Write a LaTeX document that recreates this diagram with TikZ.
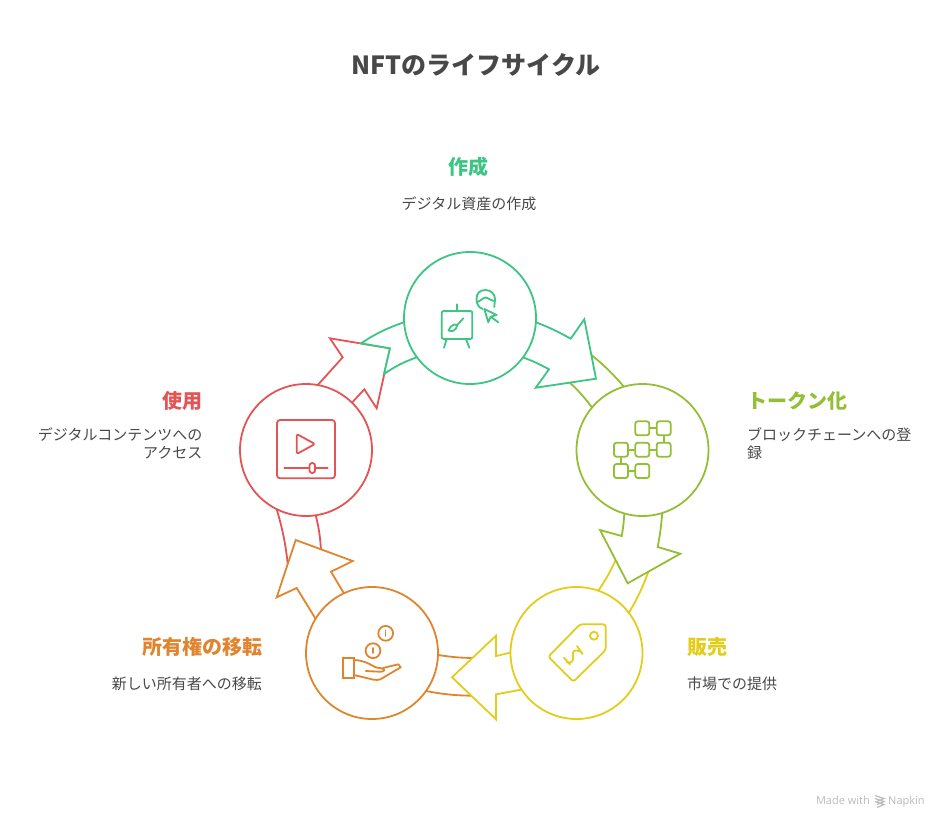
\documentclass[tikz,border=0pt]{standalone}
\usepackage{fontspec}
\setmainfont{Noto Sans CJK JP}
\newfontfamily\footfont{Open Sans}
\usetikzlibrary{positioning}

\definecolor{cgreen}{HTML}{3CC583}
\definecolor{colive}{HTML}{93BF35}
\definecolor{cyellow}{HTML}{E3CD1B}
\definecolor{corange}{HTML}{E0852F}
\definecolor{cred}{HTML}{E35555}
\definecolor{ctext}{HTML}{484848}

\begin{document}
\begin{tikzpicture}[
x=1pt,y=-1pt,
stage/.style={
circle,
minimum size=132pt,
inner sep=0pt,
line width=1.8pt,
fill=white
},
band/.style={
line width=1.8pt,
fill=white,
line join=miter
},
icon/.style={
line width=1.8pt,
line cap=round,
line join=round
},
title/.style={
font=\fontsize{25}{30}\selectfont\bfseries,
text=ctext
},
head/.style={
font=\fontsize{20}{24}\selectfont\bfseries
},
body/.style={
font=\fontsize{15}{18}\selectfont,
text=ctext
},
foot/.style={
inner sep=0pt,
text=black!27,
font=\footfont\fontsize{11}{13}\selectfont
}]

\useasboundingbox (0,0) rectangle (949,828);

% red
\draw[band,draw=cred] (316,387) -- (342.7,357.3) -- (330,338.3) -- (390,348.3) -- (376.7,408.3)
  -- (364.3,389.3) -- (352.3,402.3) -- (315.7,515) to[bend left=5] (321,550) -- (288,566)
  to[bend right=5] (276.7,509.3) -- cycle;
\node[stage,draw=cred] (use) at (306,450) {};

% orange
\draw[band,draw=corange] (343.3,592.3) -- (331,571.7) -- (352.7,561) -- (295.7,540) -- (276.7,597.3)
  -- (296.7,588) -- (315.3,618.3) -- (426,691) to[bend right=5] (474,695.7) -- (474,658)
  to[bend left=4] (438.3,655) -- cycle;
\node[stage,draw=corange] (transfer) at (372,653) {};

% yellow
\draw[band,draw=cyellow] (510,652.7) -- (496,656) -- (496,635.7) -- (452,677.3) -- (496,719.3)
  -- (496,694.3) -- (521,689.7) -- (629,612.7) to[bend right=5] (649,570) -- (617,557)
  to[bend left=5] (598.3,590.7) -- cycle;
\node[stage,draw=cyellow] (sale) at (576.5,653) {};

% olive
\draw[band,draw=colive] (623.3,386) to[bend right=5] (589,353) -- (568,381) to[bend left=5] (591.7,407)
  -- (624.3,514) to[bend left=3] (621.7,536) -- (600,530) -- (627.7,583.3) -- (680.3,553.7)
  -- (657.7,547) to[bend right=3] (662.3,512.3) -- cycle;
\node[stage,draw=colive] (token) at (642.5,450) {};

% green
\draw[band,draw=cgreen] (404,322.3) to[bend right=7] (361,343.3) -- (390,348.3) -- (384,374)
  to[bend left=7] (416.7,357.3) -- (522.7,357.3) to[bend left=4] (549,369.3) -- (535.7,387.7)
  -- (596,378.7) -- (584.3,319.3) -- (570.7,338.7) to[bend right=4] (536,322.3) -- cycle;
\node[stage,draw=cgreen] (create) at (470,318) {};

% easel and artist
\draw[icon,cgreen,rounded corners=2pt] (441.7,311) rectangle (472.3,339);
\draw[icon,cgreen] (456.7,304.3) -- (456.7,311);
\draw[icon,cgreen] (446.7,339) -- (444,347.7);
\draw[icon,cgreen] (466,339) -- (469.3,347.7);
\draw[icon,cgreen] (463.3,318.3) -- (457.3,325);
\draw[icon,cgreen] (457.3,325) .. controls (453,323) and (450,327) .. (448.5,330.5) .. controls (452,332) and (456,331) .. cycle;
\draw[icon,cgreen] (482.7,309) .. controls (478,307.5) and (476.5,303) .. (476.5,299) .. controls (476.5,293) and (480,290) .. (485.5,290) .. controls (491,290) and (495,294) .. (495,299) -- (494.3,307);
\draw[icon,cgreen] (477,302) .. controls (481,301) and (483,297.5) .. (486,297.5) .. controls (489,298) and (491,301) .. (495,301);
\draw[icon,cgreen] (484.3,309) -- (496.7,315) -- (490.7,316.7) -- (488.3,322.3) -- cycle;
\draw[icon,cgreen] (490.7,316.7) -- (498.3,322.3);

% chain of blocks
\foreach \ix/\iy [count=\n] in {642.3/428.3,663.7/428.3,621/449.7,642.3/449.7,663.7/449.7,621/471,642.3/471}
  \node[draw=colive,line width=1.8pt,rounded corners=2.5pt,minimum size=14pt,inner sep=0pt] (b\n) at (\ix,\iy) {};
\draw[icon,colive] (b1) -- (b2);
\draw[icon,colive] (b3) -- (b4);
\draw[icon,colive] (b4) -- (b5);
\draw[icon,colive] (b6) -- (b7);
\draw[icon,colive] (b2) -- (b5);
\draw[icon,colive] (b3) -- (b6);

% price tag
\draw[icon,cyellow,rounded corners=2.5pt] (580,624.3) -- (605.7,624.3) -- (605.7,650) -- (573.3,681.7) -- (548.3,656.7) -- cycle;
\draw[icon,cyellow] (594,635.7) circle (4pt);
\draw[icon,cyellow] (564,657.7) -- (570,664.5);
\draw[icon,cyellow] (567,662.5) .. controls (572,664) and (574,660) .. (573,655) .. controls (572,651) and (575,649) .. (580,651.5);
\draw[icon,cyellow] (577,646) -- (582.5,654);

% hand and coins
\draw[icon,corange,line join=miter] (343,657.7) rectangle (353.7,678.3);
\draw[icon,corange] (353.7,660) .. controls (360,660) and (367,662) .. (374.3,666.7) .. controls (378,668.5) and (383,667.5) .. (384.3,670) .. controls (384.5,671.5) and (382,671.7) .. (380,671.7) -- (365.7,671);
\draw[icon,corange] (383,668) -- (398.3,664.3) -- (400.7,667.3) -- (380,679.5) .. controls (376,680.5) and (372,679.5) .. (368,678.3) -- (353.7,675);
\draw[icon,corange] (385.7,633.3) circle (7.4pt);
\draw[icon,corange] (373,650.7) circle (7.4pt);
\draw[icon,corange] (385.5,630.5) -- (385.5,636);
\draw[icon,corange] (373.3,648) -- (373.3,653);

% video player
\draw[icon,cred,rounded corners=3pt] (277,420) rectangle (335,478.3);
\draw[icon,cred,rounded corners=1.5pt] (296.7,434) -- (315,444) -- (296.7,454) -- cycle;
\draw[icon,cred] (284.3,468) -- (327.7,468);
\draw[icon,cred,fill=white,rounded corners=2.5pt] (309.5,463) rectangle (315,473);

% labels
\node[title] (ttl) at (476,64.5) {NFTのライフサイクル};
\node[head,text=cgreen] (createh) at (468,167) {作成};
\node[body] (createt) at (469,203.5) {デジタル資産の作成};
\node[head,text=colive,anchor=west,inner sep=0pt] (tokenh) at (747,401) {トークン化};
\node[body,anchor=west,align=left,inner sep=0pt] (tokent) at (747,443.5) {ブロックチェーンへの登\\録};
\node[head,text=cyellow,anchor=west,inner sep=0pt] (saleh) at (687,647) {販売};
\node[body,anchor=west,inner sep=0pt] (salet) at (687,683.5) {市場での提供};
\node[head,text=corange,anchor=east,inner sep=0pt] (transferh) at (262.5,647) {所有権の移転};
\node[body,anchor=east,inner sep=0pt] (transfert) at (262,683.5) {新しい所有者への移転};
\node[head,text=cred,anchor=east,inner sep=0pt] (useh) at (202.5,401) {使用};
\node[body,anchor=east,align=right,inner sep=0pt] (uset) at (202.5,443.5) {デジタルコンテンツへの\\アクセス};

% footer
\node[foot,anchor=base east] (made) at (870,804.5) {Made with};
\node[foot,anchor=base west] (napkin) at (888,804.5) {Napkin};
\foreach \yy in {795.5,798.5,801.5}
  \draw[line width=1.2pt,black!27] (875,\yy) -- (884,\yy+3) -- (877,\yy+6);

\end{tikzpicture}
\end{document}
